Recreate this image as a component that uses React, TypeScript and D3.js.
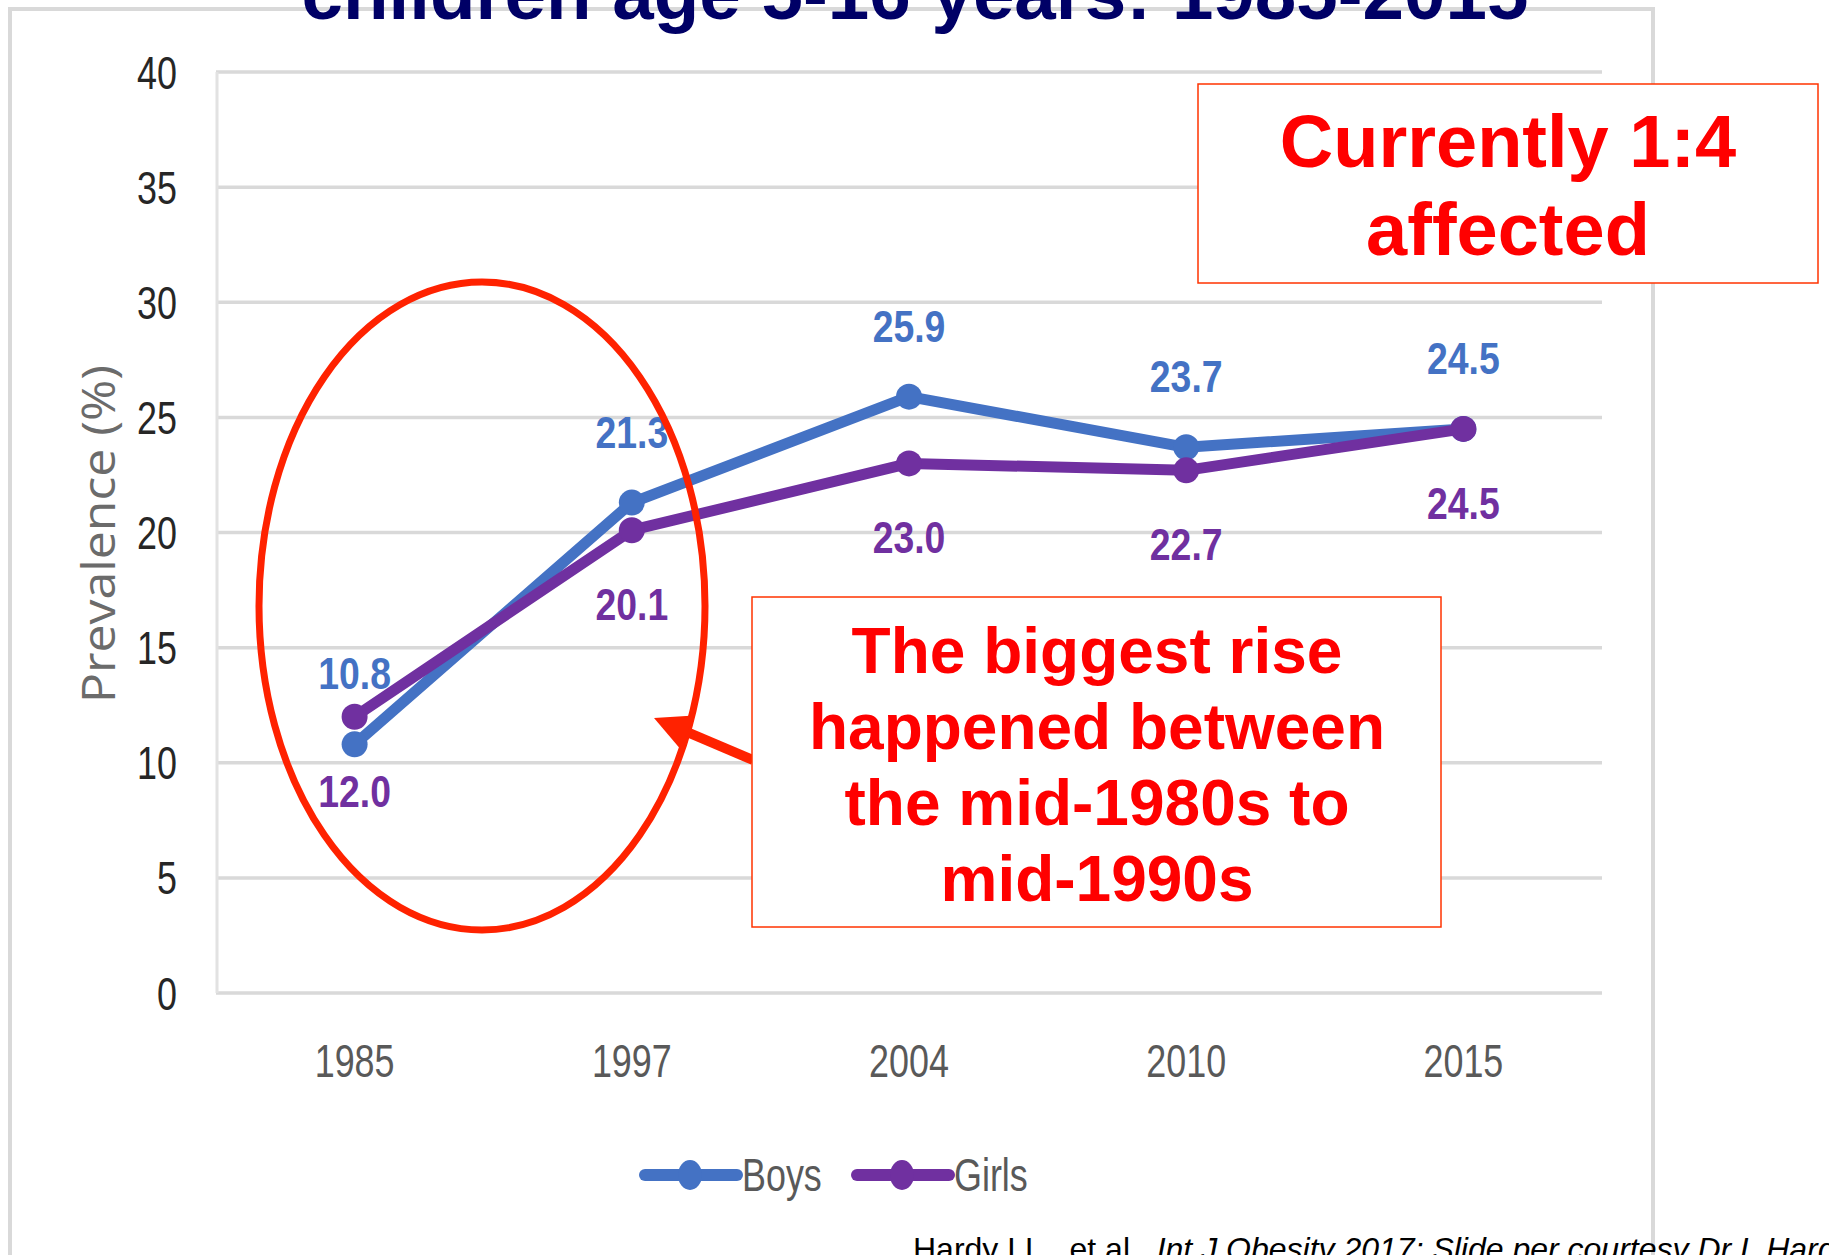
import React from 'react';
import * as d3 from 'd3';

// Prevalence (%) of overweight/obesity among children aged 5-16, by survey year
const years = ['1985', '1997', '2004', '2010', '2015'];
const boys = [10.8, 21.3, 25.9, 23.7, 24.5];
const girls = [12.0, 20.1, 23.0, 22.7, 24.5];
const yTicks = [0, 5, 10, 15, 20, 25, 30, 35, 40];
const seriesNames = ['Boys', 'Girls'];

const W = 1829;
const H = 1255;

const BLUE = '#4472C4';
const PURPLE = '#7030A0';
const GRID = '#d9d9d9';
const RED_TEXT = '#FF0000';
const RED_MARK = '#FF2200';

const plot = { left: 216, right: 1602, top: 72, bottom: 993 };

const x = d3.scalePoint<string>().domain(years).range([plot.left, plot.right]).padding(0.5);
const y = d3.scaleLinear().domain([0, 40]).range([plot.bottom, plot.top]);

const lineGen = d3
  .line<number>()
  .x((_, i) => x(years[i]) as number)
  .y((d) => y(d));

// Text squeezed horizontally to mimic a narrow chart font
function NText(props: {
  x: number;
  y: number;
  sx?: number;
  anchor?: 'start' | 'middle' | 'end';
  size: number;
  fill: string;
  weight?: string | number;
  children: React.ReactNode;
}) {
  const { x: tx, y: ty, sx = 0.78, anchor = 'middle', size, fill, weight = 'normal', children } = props;
  return (
    <text
      transform={`translate(${tx},${ty}) scale(${sx},1)`}
      textAnchor={anchor}
      fontFamily="'Liberation Sans', Arial, sans-serif"
      fontSize={size}
      fontWeight={weight}
      fill={fill}
    >
      {children}
    </text>
  );
}

export default function App() {
  const series = [
    { name: seriesNames[0], values: boys, color: BLUE, dy: -71 + 16 },
    { name: seriesNames[1], values: girls, color: PURPLE, dy: 74 + 16 },
  ];

  // annotation arrow geometry (shaft end -> tip)
  const arrowFrom = [753, 760];
  const arrowTip = [654, 718];
  const dx = arrowTip[0] - arrowFrom[0];
  const dyA = arrowTip[1] - arrowFrom[1];
  const len = Math.hypot(dx, dyA);
  const ux = dx / len;
  const uy = dyA / len;
  const headLen = 36;
  const headHalf = 18;
  const bx = arrowTip[0] - ux * headLen;
  const by = arrowTip[1] - uy * headLen;
  const nx = -uy;
  const ny = ux;
  const head = [
    [arrowTip[0], arrowTip[1]],
    [bx + nx * headHalf, by + ny * headHalf],
    [bx - nx * headHalf, by - ny * headHalf],
  ];

  return (
    <svg
      width={W}
      height={H}
      viewBox={`0 0 ${W} ${H}`}
      style={{ position: 'absolute', left: 0, top: 0, display: 'block', background: '#fff' }}
    >
      <rect x={0} y={0} width={W} height={H} fill="#fff" />

      {/* chart frame */}
      <rect x={10} y={9} width={1643} height={1320} fill="none" stroke={GRID} strokeWidth={4} />

      {/* title */}
      <text
        x={915}
        y={19}
        textAnchor="middle"
        fontFamily="'Liberation Sans', Arial, sans-serif"
        fontWeight="bold"
        fontSize={75}
        fill="#000066"
        textLength={1227}
        lengthAdjust="spacingAndGlyphs"
      >
        children age 5-16 years: 1985-2015
      </text>

      {/* gridlines */}
      {yTicks.map((t) => (
        <line
          key={t}
          x1={plot.left}
          x2={plot.right}
          y1={y(t)}
          y2={y(t)}
          stroke={GRID}
          strokeWidth={3.5}
        />
      ))}
      <line x1={plot.left + 1} x2={plot.left + 1} y1={plot.top} y2={plot.bottom} stroke="#e2e2e2" strokeWidth={3} />

      {/* y tick labels */}
      {yTicks.map((t) => (
        <NText key={t} x={177} y={y(t) + 16.5} anchor="end" size={46} fill="#262626">
          {t}
        </NText>
      ))}

      {/* x tick labels */}
      {years.map((yr) => (
        <NText key={yr} x={x(yr) as number} y={1077} size={46} fill="#595959">
          {yr}
        </NText>
      ))}

      {/* y axis title */}
      <text
        transform={`translate(115,534) rotate(-90)`}
        textAnchor="middle"
        fontFamily="'Open Sans', 'DejaVu Sans', sans-serif"
        fontSize={45}
        fill="#6b6b6b"
        textLength={338}
        lengthAdjust="spacingAndGlyphs"
      >
        Prevalence (%)
      </text>

      {/* series lines and markers */}
      {series.map((s) => (
        <g key={s.name}>
          <path d={lineGen(s.values) || ''} fill="none" stroke={s.color} strokeWidth={11} strokeLinejoin="round" />
          {s.values.map((v, i) => (
            <circle key={i} cx={x(years[i]) as number} cy={y(v)} r={13} fill={s.color} />
          ))}
        </g>
      ))}

      {/* data labels */}
      {series.map((s) =>
        s.values.map((v, i) => (
          <NText
            key={s.name + i}
            x={x(years[i]) as number}
            y={y(v) + s.dy}
            sx={0.84}
            size={44.5}
            weight="bold"
            fill={s.color}
          >
            {v.toFixed(1)}
          </NText>
        ))
      )}

      {/* legend */}
      {series.map((s, i) => {
        const lx = 645 + i * 212;
        return (
          <g key={s.name}>
            <line x1={lx} x2={lx + 92} y1={1175} y2={1175} stroke={s.color} strokeWidth={12} strokeLinecap="round" />
            <ellipse cx={lx + 45} cy={1175} rx={12} ry={15} fill={s.color} />
            <NText x={lx + 97} y={1191} anchor="start" size={46} fill="#595959">
              {s.name}
            </NText>
          </g>
        );
      })}

      {/* highlight ellipse */}
      <ellipse cx={482} cy={606} rx={223} ry={324} fill="none" stroke={RED_MARK} strokeWidth={7} />

      {/* arrow */}
      <line
        x1={arrowFrom[0]}
        y1={arrowFrom[1]}
        x2={bx + ux * 4}
        y2={by + uy * 4}
        stroke={RED_MARK}
        strokeWidth={10}
      />
      <polygon points={head.map((p) => p.join(',')).join(' ')} fill={RED_MARK} />

      {/* callout: biggest rise */}
      <rect x={752} y={597} width={689} height={330} fill="#fff" stroke="#FF3300" strokeWidth={1.5} />
      {['The biggest rise', 'happened between', 'the mid-1980s to', 'mid-1990s'].map((line, i) => (
        <text
          key={i}
          x={1097}
          y={673 + i * 76}
          textAnchor="middle"
          fontFamily="'Liberation Sans', Arial, sans-serif"
          fontWeight="bold"
          fontSize={64}
          fill={RED_TEXT}
        >
          {line}
        </text>
      ))}

      {/* callout: current rate */}
      <rect x={1198} y={84} width={620} height={199} fill="#fff" stroke="#FF3300" strokeWidth={1.5} />
      {['Currently 1:4', 'affected'].map((line, i) => (
        <text
          key={i}
          x={1508}
          y={167 + i * 88}
          textAnchor="middle"
          fontFamily="'Liberation Sans', Arial, sans-serif"
          fontWeight="bold"
          fontSize={74}
          fill={RED_TEXT}
        >
          {line}
        </text>
      ))}

      {/* source */}
      <text x={913} y={1260} fontFamily="'Liberation Sans', Arial, sans-serif" fontSize={32} fill="#000">
        Hardy LL., et al.,{' '}
        <tspan fontStyle="italic">Int J Obesity 2017; Slide per courtesy Dr L Hardy</tspan>
      </text>
    </svg>
  );
}
